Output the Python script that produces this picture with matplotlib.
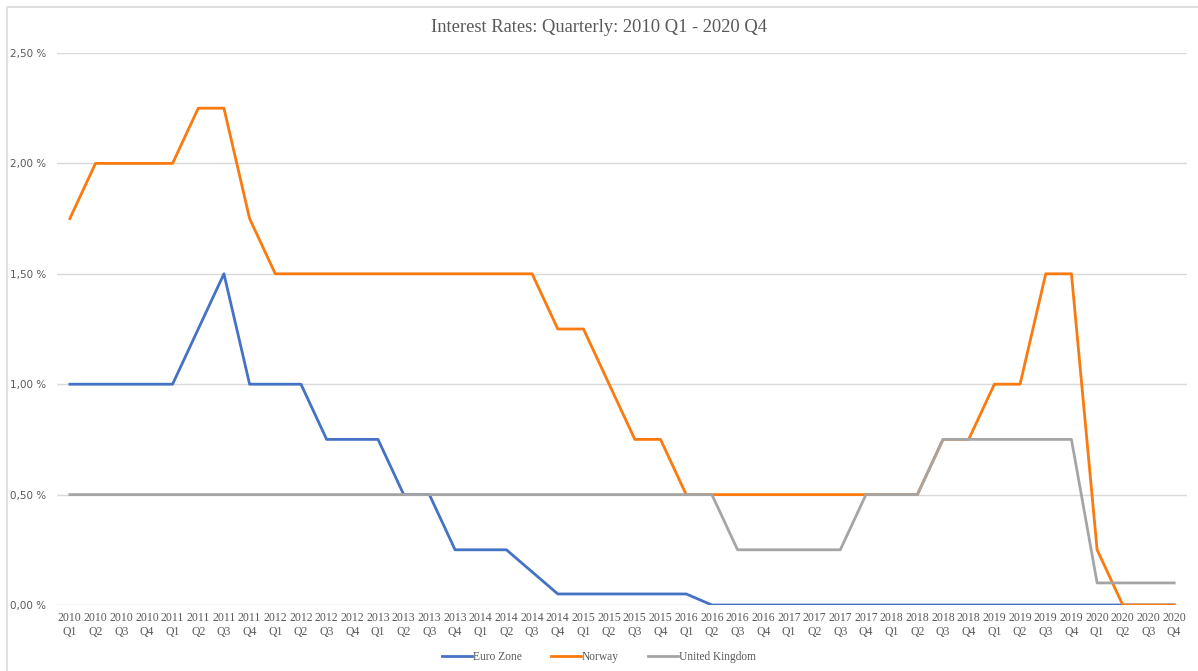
import matplotlib
matplotlib.use("Agg")
import matplotlib.pyplot as plt
from matplotlib.patches import Rectangle
from matplotlib.ticker import FuncFormatter

# Quarters 2010 Q1 .. 2020 Q4
years = [str(y) for y in range(2010, 2021) for q in range(4)]
quarters = ["Q" + str(q) for y in range(2010, 2021) for q in range(1, 5)]
labels = [y + "\n" + q for y, q in zip(years, quarters)]

euro_zone = [1.00, 1.00, 1.00, 1.00, 1.00, 1.25, 1.50, 1.00,
             1.00, 1.00, 0.75, 0.75, 0.75, 0.50, 0.50, 0.25,
             0.25, 0.25, 0.15, 0.05, 0.05, 0.05, 0.05, 0.05,
             0.05, 0.00, 0.00, 0.00, 0.00, 0.00, 0.00, 0.00,
             0.00, 0.00, 0.00, 0.00, 0.00, 0.00, 0.00, 0.00,
             0.00, 0.00, 0.00, 0.00]
norway = [1.75, 2.00, 2.00, 2.00, 2.00, 2.25, 2.25, 1.75,
          1.50, 1.50, 1.50, 1.50, 1.50, 1.50, 1.50, 1.50,
          1.50, 1.50, 1.50, 1.25, 1.25, 1.00, 0.75, 0.75,
          0.50, 0.50, 0.50, 0.50, 0.50, 0.50, 0.50, 0.50,
          0.50, 0.50, 0.75, 0.75, 1.00, 1.00, 1.50, 1.50,
          0.25, 0.00, 0.00, 0.00]
united_kingdom = [0.50, 0.50, 0.50, 0.50, 0.50, 0.50, 0.50, 0.50,
                  0.50, 0.50, 0.50, 0.50, 0.50, 0.50, 0.50, 0.50,
                  0.50, 0.50, 0.50, 0.50, 0.50, 0.50, 0.50, 0.50,
                  0.50, 0.50, 0.25, 0.25, 0.25, 0.25, 0.25, 0.50,
                  0.50, 0.50, 0.75, 0.75, 0.75, 0.75, 0.75, 0.75,
                  0.10, 0.10, 0.10, 0.10]

text_color = '#595959'
serif = ['Liberation Serif', 'DejaVu Serif']

fig = plt.figure(figsize=(11.98, 6.71), dpi=100)
# light frame around the chart area (left/top edges visible)
fig.patches.append(Rectangle((7 / 1198, -0.05), 1.1, 1 - 7 / 671 + 0.05,
                             transform=fig.transFigure, fill=False,
                             edgecolor='#D9D9D9', linewidth=1.2))

ax = fig.add_axes([57 / 1198, 1 - 605 / 671, 1130 / 1198, 552 / 671])
x = list(range(len(labels)))
ax.plot(x, euro_zone, color='#4472C4', linewidth=2.0, label='Euro Zone')
ax.plot(x, norway, color='#FA7A10', linewidth=2.0, label='Norway')
ax.plot(x, united_kingdom, color='#A5A5A5', linewidth=2.0, label='United Kingdom')

ax.set_xlim(-0.5, len(labels) - 0.5)
ax.set_ylim(0, 2.5)
ax.set_yticks([0, 0.5, 1.0, 1.5, 2.0, 2.5])
ax.yaxis.set_major_formatter(FuncFormatter(lambda v, p: ('%.2f %%' % v).replace('.', ',')))
ax.set_xticks(x)
ax.set_xticklabels(labels, fontfamily=serif, fontsize=8.5, color=text_color,
                   linespacing=1.25)
ax.tick_params(axis='x', length=0, pad=5)
ax.tick_params(axis='y', length=0, pad=8, labelsize=7.5, labelcolor=text_color)
ax.grid(axis='y', color='#D9D9D9', linewidth=1.0)
ax.set_axisbelow(True)
for s in ax.spines.values():
    s.set_visible(False)

fig.text(0.5, 1 - 27 / 671, 'Interest Rates: Quarterly: 2010 Q1 - 2020 Q4',
         ha='center', va='center', fontfamily=serif, fontsize=13.3, color=text_color)

fig.legend(loc='center', bbox_to_anchor=(0.5, 1 - 657 / 671), ncol=3, frameon=False,
           prop={'family': serif, 'size': 8.3}, labelcolor=text_color,
           handlelength=2.6, handletextpad=0.1, columnspacing=2.5)

fig.savefig('out.png', dpi=100)
